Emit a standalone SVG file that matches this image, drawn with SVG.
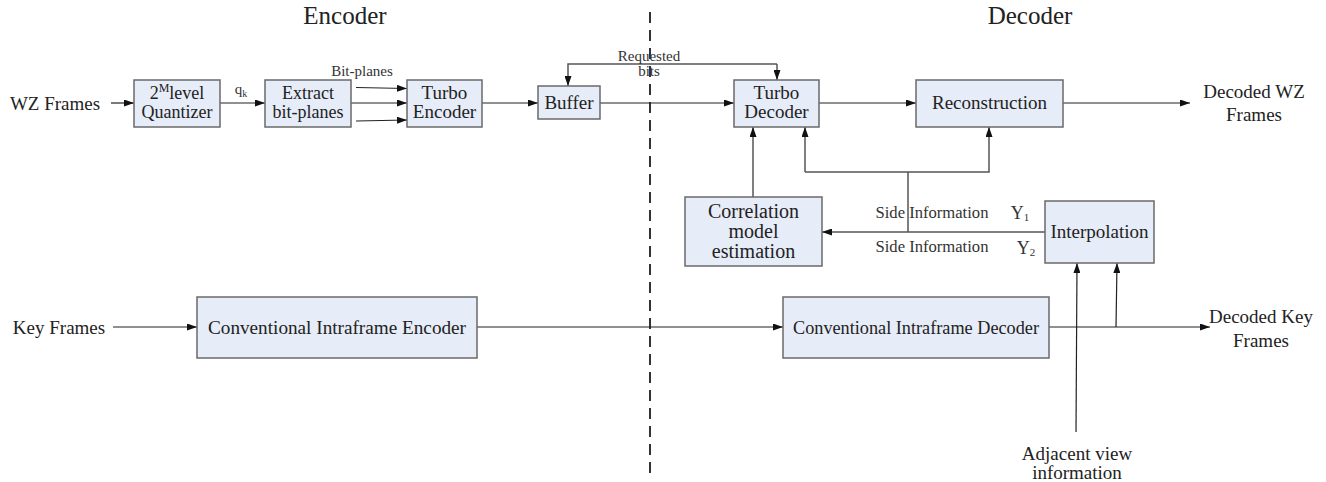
<svg xmlns="http://www.w3.org/2000/svg" width="1326" height="482" viewBox="0 0 1326 482">
<defs>
<marker id="ah" markerWidth="10" markerHeight="7" refX="10" refY="3.5" orient="auto" markerUnits="userSpaceOnUse">
<path d="M0,0 L10,3.5 L0,7 z" fill="#111"/>
</marker>
<style>
.box{fill:#E6ECF8;stroke:#6a6a6a;stroke-width:1.5}
.t{font-family:"Liberation Serif","Times New Roman",serif;font-size:19px;fill:#222;text-anchor:middle}
.s{font-family:"Liberation Serif","Times New Roman",serif;font-size:15px;fill:#333;text-anchor:middle}
.h{font-family:"Liberation Serif","Times New Roman",serif;font-size:25px;fill:#222;text-anchor:middle}
.ln{stroke:#222;stroke-width:1.2;fill:none}
.gl{stroke:#555;stroke-width:1.5;fill:none}
.dash{stroke:#333;stroke-width:2;stroke-dasharray:11,7;fill:none}
</style>
</defs>
<rect width="1326" height="482" fill="#fff"/>
<g id="titles">
<text class="h" x="345" y="24">Encoder</text>
<text class="h" x="1030" y="24">Decoder</text>
</g>
<g id="connectors">
<line class="dash" x1="650" y1="12" x2="650" y2="480"/>
<line class="ln" x1="111" y1="103" x2="134" y2="103" marker-end="url(#ah)"/>
<line class="ln" x1="220" y1="103" x2="265" y2="103" marker-end="url(#ah)"/>
<line class="ln" x1="356" y1="87.5" x2="407" y2="88.5" marker-end="url(#ah)"/>
<line class="ln" x1="351" y1="103" x2="407" y2="103" marker-end="url(#ah)"/>
<line class="ln" x1="356" y1="121" x2="407" y2="120" marker-end="url(#ah)"/>
<line class="ln" x1="482" y1="103" x2="538" y2="103" marker-end="url(#ah)"/>
<line class="ln" x1="600" y1="103" x2="734" y2="103" marker-end="url(#ah)"/>
<path class="gl" d="M777,64 L568,64 L568,86" marker-end="url(#ah)"/>
<line class="gl" x1="777" y1="64" x2="777" y2="80" marker-end="url(#ah)"/>
<line class="ln" x1="819" y1="103" x2="916" y2="103" marker-end="url(#ah)"/>
<line class="ln" x1="1063" y1="103" x2="1190" y2="103" marker-end="url(#ah)"/>
<line class="gl" x1="753" y1="197" x2="753" y2="127" marker-end="url(#ah)"/>
<path class="gl" d="M805,172 L989,172 L989,127" marker-end="url(#ah)"/>
<line class="gl" x1="805" y1="172" x2="805" y2="127" marker-end="url(#ah)"/>
<line class="gl" x1="908" y1="172" x2="908" y2="232"/>
<line class="gl" x1="1045" y1="232" x2="822" y2="232" marker-end="url(#ah)"/>
<line class="ln" x1="113" y1="327" x2="197" y2="327" marker-end="url(#ah)"/>
<line class="ln" x1="477" y1="327" x2="783" y2="327" marker-end="url(#ah)"/>
<line class="ln" x1="1049" y1="327" x2="1210" y2="327" marker-end="url(#ah)"/>
<line class="ln" x1="1116" y1="327" x2="1117" y2="263" marker-end="url(#ah)"/>
<line class="ln" x1="1076" y1="432" x2="1077" y2="263" marker-end="url(#ah)"/>
</g>
<g id="quantizer">
<rect class="box" x="134" y="80" width="86" height="47"/>
<text class="t" x="177" y="99" style="font-size:18px">2<tspan font-size="12" dy="-7">M</tspan><tspan dy="7">level</tspan></text>
<text class="t" x="177" y="118" style="font-size:18px">Quantizer</text>
</g>
<g id="extract">
<rect class="box" x="265" y="80" width="86" height="47"/>
<text class="t" x="308" y="99" style="font-size:18px">Extract</text>
<text class="t" x="308" y="118" style="font-size:18px">bit-planes</text>
</g>
<g id="turbo-encoder">
<rect class="box" x="407" y="80" width="75" height="47"/>
<text class="t" x="444.5" y="99">Turbo</text>
<text class="t" x="444.5" y="118">Encoder</text>
</g>
<g id="buffer">
<rect class="box" x="538" y="86" width="62" height="33"/>
<text class="t" x="569" y="109">Buffer</text>
</g>
<g id="turbo-decoder">
<rect class="box" x="734" y="80" width="85" height="47"/>
<text class="t" x="776.5" y="99">Turbo</text>
<text class="t" x="776.5" y="118">Decoder</text>
</g>
<g id="reconstruction">
<rect class="box" x="916" y="80" width="147" height="47"/>
<text class="t" x="989.5" y="109">Reconstruction</text>
</g>
<g id="correlation">
<rect class="box" x="685" y="197" width="137" height="69"/>
<text class="t" x="753.5" y="218" style="font-size:20px">Correlation</text>
<text class="t" x="753.5" y="238" style="font-size:20px">model</text>
<text class="t" x="753.5" y="258" style="font-size:20px">estimation</text>
</g>
<g id="interpolation">
<rect class="box" x="1045" y="201" width="109" height="62"/>
<text class="t" x="1099.5" y="238">Interpolation</text>
</g>
<g id="intra-encoder">
<rect class="box" x="197" y="297" width="280" height="61"/>
<text class="t" x="337" y="334" style="font-size:19.5px" textLength="258" lengthAdjust="spacingAndGlyphs">Conventional Intraframe Encoder</text>
</g>
<g id="intra-decoder">
<rect class="box" x="783" y="297" width="266" height="61"/>
<text class="t" x="916" y="334" style="font-size:19.5px" textLength="246" lengthAdjust="spacingAndGlyphs">Conventional Intraframe Decoder</text>
</g>
<g id="labels">
<text class="t" x="55" y="110">WZ Frames</text>
<text class="t" x="59" y="334">Key Frames</text>
<text class="t" x="1254" y="98">Decoded WZ</text>
<text class="t" x="1254" y="121">Frames</text>
<text class="t" x="1261" y="323">Decoded Key</text>
<text class="t" x="1261" y="347">Frames</text>
<text class="t" x="1077" y="460">Adjacent view</text>
<text class="t" x="1077" y="479">information</text>
<text class="s" x="362" y="76">Bit-planes</text>
<text class="s" x="241" y="94">q<tspan font-size="10" dy="3">k</tspan></text>
<text class="s" x="649" y="61">Requested</text>
<text class="s" x="649" y="76">bits</text>
<text class="s" x="932" y="218" style="font-size:16.6px">Side Information</text>
<text class="s" x="932" y="252" style="font-size:16.6px">Side Information</text>
<text class="s" x="1020" y="219" style="font-size:18px">Y<tspan font-size="11" dy="2">1</tspan></text>
<text class="s" x="1026" y="254" style="font-size:18px">Y<tspan font-size="11" dy="2">2</tspan></text>
</g>
</svg>
